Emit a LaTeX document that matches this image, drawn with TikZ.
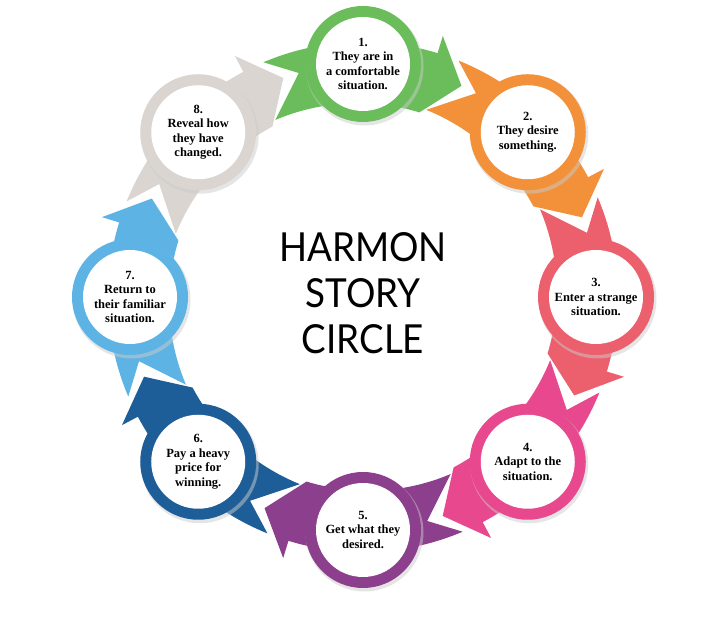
\documentclass[tikz,border=0pt]{standalone}
\usepackage{fontspec}
\setmainfont{Liberation Serif}
\newfontfamily\titlefont{Lato}
\begin{document}
\begin{tikzpicture}[x=1pt,y=1pt]
\definecolor{c1}{HTML}{6BBD5B}\definecolor{c2}{HTML}{F2913A}
\definecolor{c3}{HTML}{EC5F6C}\definecolor{c4}{HTML}{E8488E}
\definecolor{c5}{HTML}{8C3F8C}\definecolor{c6}{HTML}{1E5E98}
\definecolor{c7}{HTML}{5DB3E4}\definecolor{c8}{HTML}{DAD5D1}
\tikzset{lbl/.style={circle,fill=white,minimum size=94pt,inner sep=0pt,align=center,font=\bfseries\fontsize{12.5}{14.5}\selectfont},
 ring/.style={circle,minimum size=116pt,inner sep=0pt}}
\useasboundingbox (0,0) rectangle (720,617);
\fill[white] (0,0) rectangle (720,617);
\def\R{233}\def\w{22}\def\h{40}
\begin{scope}[shift={(363,320)}]
\foreach \i/\t in {1/90,2/45,3/0,4/-45,5/-90,6/-135,7/-180,8/-225}{
 \pgfmathsetmacro\ta{\t+23}\pgfmathsetmacro\tn{\t+16}
 \pgfmathsetmacro\tb{\t-17}\pgfmathsetmacro\te{\t-25}
 \fill[c\i] (\ta:\R+\w) arc[start angle=\ta,end angle=\tb,radius=\R+\w]
   -- (\tb:\R+\h) -- (\te:\R) -- (\tb:\R-\h)
   arc[start angle=\tb,end angle=\ta,radius=\R-\w] -- (\tn:\R) -- cycle;
}
\foreach \i/\t/\txt in {1/90/{1.\\They are in\\a comfortable\\situation.},
 2/45/{2.\\They desire\\something.},3/0/{3.\\Enter a strange\\situation.},
 4/-45/{4.\\Adapt to the\\situation.},5/-90/{5.\\Get what they\\desired.},
 6/-135/{6.\\Pay a heavy\\price for\\winning.},7/-180/{7.\\Return to\\their familiar\\situation.},
 8/-225/{8.\\Reveal how\\they have\\changed.}}{
 \fill[black!20,opacity=0.5] (\t:\R)++(1.5,-2.5) circle (59);
 \node[ring,fill=c\i] (r\i) at (\t:\R) {};
 \node[lbl] (n\i) at (r\i) {\txt};
}
\node[font=\titlefont\fontsize{40}{46}\selectfont,align=center,xscale=0.92] (title) at (0,4) {HARMON\\STORY\\CIRCLE};
\end{scope}
\end{tikzpicture}
\end{document}
